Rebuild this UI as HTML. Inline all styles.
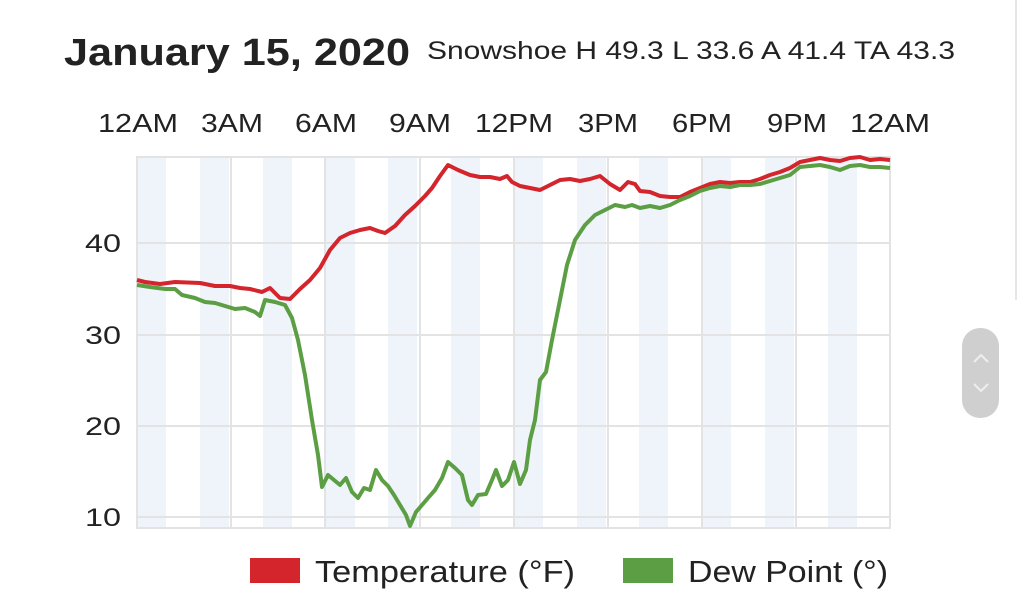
<!DOCTYPE html>
<html><head><meta charset="utf-8"><style>
html,body{margin:0;padding:0;background:#fff;width:1024px;height:592px;overflow:hidden;font-family:"Liberation Sans",Arial,sans-serif;}
</style></head><body>
<svg width="1024" height="592" xmlns="http://www.w3.org/2000/svg" font-family="Liberation Sans, Arial, sans-serif">
<text x="64" y="65" font-size="38" font-weight="bold" fill="#222" textLength="346" lengthAdjust="spacingAndGlyphs">January 15, 2020</text>
<text x="427" y="59" font-size="25" fill="#222" textLength="528" lengthAdjust="spacingAndGlyphs">Snowshoe H 49.3 L 33.6 A 41.4 TA 43.3</text>
<g font-size="26" fill="#222" text-anchor="middle" lengthAdjust="spacingAndGlyphs">
<text x="138" y="132" textLength="80" lengthAdjust="spacingAndGlyphs">12AM</text><text x="232" y="132" textLength="62" lengthAdjust="spacingAndGlyphs">3AM</text><text x="326" y="132" textLength="62" lengthAdjust="spacingAndGlyphs">6AM</text><text x="420" y="132" textLength="62" lengthAdjust="spacingAndGlyphs">9AM</text><text x="514" y="132" textLength="78" lengthAdjust="spacingAndGlyphs">12PM</text><text x="608" y="132" textLength="60" lengthAdjust="spacingAndGlyphs">3PM</text><text x="702" y="132" textLength="60" lengthAdjust="spacingAndGlyphs">6PM</text><text x="797" y="132" textLength="60" lengthAdjust="spacingAndGlyphs">9PM</text><text x="890" y="132" textLength="80" lengthAdjust="spacingAndGlyphs">12AM</text>
</g>
<g fill="#eef4fa">
<rect x="137" y="157" width="29" height="371"/><rect x="200" y="157" width="29" height="371"/><rect x="263" y="157" width="29" height="371"/><rect x="326" y="157" width="29" height="371"/><rect x="388" y="157" width="29" height="371"/><rect x="451" y="157" width="29" height="371"/><rect x="514" y="157" width="29" height="371"/><rect x="577" y="157" width="29" height="371"/><rect x="639" y="157" width="29" height="371"/><rect x="702" y="157" width="29" height="371"/><rect x="765" y="157" width="29" height="371"/><rect x="828" y="157" width="29" height="371"/>
</g>
<g stroke="#e3e3e3" stroke-width="2" fill="none">
<rect x="137" y="157" width="753" height="371"/>
<line x1="137" y1="243" x2="890" y2="243"/><line x1="137" y1="335" x2="890" y2="335"/><line x1="137" y1="426" x2="890" y2="426"/><line x1="137" y1="517" x2="890" y2="517"/>
<line x1="231" y1="157" x2="231" y2="528"/><line x1="325" y1="157" x2="325" y2="528"/><line x1="420" y1="157" x2="420" y2="528"/><line x1="514" y1="157" x2="514" y2="528"/><line x1="608" y1="157" x2="608" y2="528"/><line x1="702" y1="157" x2="702" y2="528"/><line x1="796" y1="157" x2="796" y2="528"/>
</g>
<g font-size="25" fill="#222" text-anchor="end">
<text x="121" y="252" textLength="36" lengthAdjust="spacingAndGlyphs">40</text><text x="121" y="344" textLength="36" lengthAdjust="spacingAndGlyphs">30</text><text x="121" y="435" textLength="36" lengthAdjust="spacingAndGlyphs">20</text><text x="121" y="526" textLength="36" lengthAdjust="spacingAndGlyphs">10</text>
</g>
<polyline fill="none" stroke="#d4242c" stroke-width="4" stroke-linejoin="round" points="137,280 145,282 160,284 175,282 200,283 215,286 230,286 240,288 250,289 262,292 270,288 280,298 290,299 300,289 310,280 320,268 330,250 340,238 350,233 360,230 370,228 378,231 385,233 395,226 405,215 415,206 425,196 432,188 440,176 448,165 458,170 470,175 480,177 490,177 500,179 507,176 512,182 520,186 530,188 540,190 550,185 560,180 570,179 580,181 590,179 600,176 610,184 620,190 628,182 635,184 640,191 650,192 660,196 670,197 680,197 690,192 700,188 710,184 720,182 730,183 740,182 750,182 760,179 770,175 780,172 790,168 800,162 810,160 820,158 830,160 840,161 850,158 860,157 870,160 880,159 890,160"/>
<polyline fill="none" stroke="#5c9e44" stroke-width="4" stroke-linejoin="round" points="137,285 150,287 165,289 175,289 182,295 195,298 205,302 215,303 225,306 235,309 245,308 255,312 260,316 265,300 275,302 285,305 292,318 298,340 305,375 312,420 318,455 322,487 328,475 334,480 340,485 346,478 352,492 358,498 364,488 370,490 376,470 382,480 388,486 394,495 400,505 406,515 410,526 416,512 422,505 428,498 435,490 442,478 448,462 455,468 462,475 468,500 472,505 478,495 486,494 492,480 496,470 502,486 508,480 514,462 520,484 526,470 530,440 535,420 540,380 546,372 552,340 560,300 567,265 575,240 585,225 595,215 605,210 615,205 625,207 632,205 640,208 650,206 660,208 670,205 680,200 690,196 700,191 710,188 720,186 730,187 740,185 750,185 760,184 770,181 780,178 790,175 800,167 810,166 820,165 830,167 840,170 850,166 860,165 870,167 880,167 890,168"/>
<rect x="250" y="558" width="50" height="25" fill="#d4242c"/>
<text x="315" y="582" font-size="31" fill="#222" textLength="260" lengthAdjust="spacingAndGlyphs">Temperature (°F)</text>
<rect x="623" y="558" width="50" height="25" fill="#5c9e44"/>
<text x="688" y="582" font-size="31" fill="#222" textLength="200" lengthAdjust="spacingAndGlyphs">Dew Point (°)</text>
<rect x="962" y="328" width="37" height="90" rx="18" fill="#cfcfcf"/>
<polyline points="974,362 981,355 988,362" fill="none" stroke="#eee" stroke-width="2"/>
<polyline points="974,384 981,391 988,384" fill="none" stroke="#eee" stroke-width="2"/>
<line x1="1016" y1="0" x2="1016" y2="300" stroke="#e6e6e6" stroke-width="2"/>
</svg>
</body></html>
